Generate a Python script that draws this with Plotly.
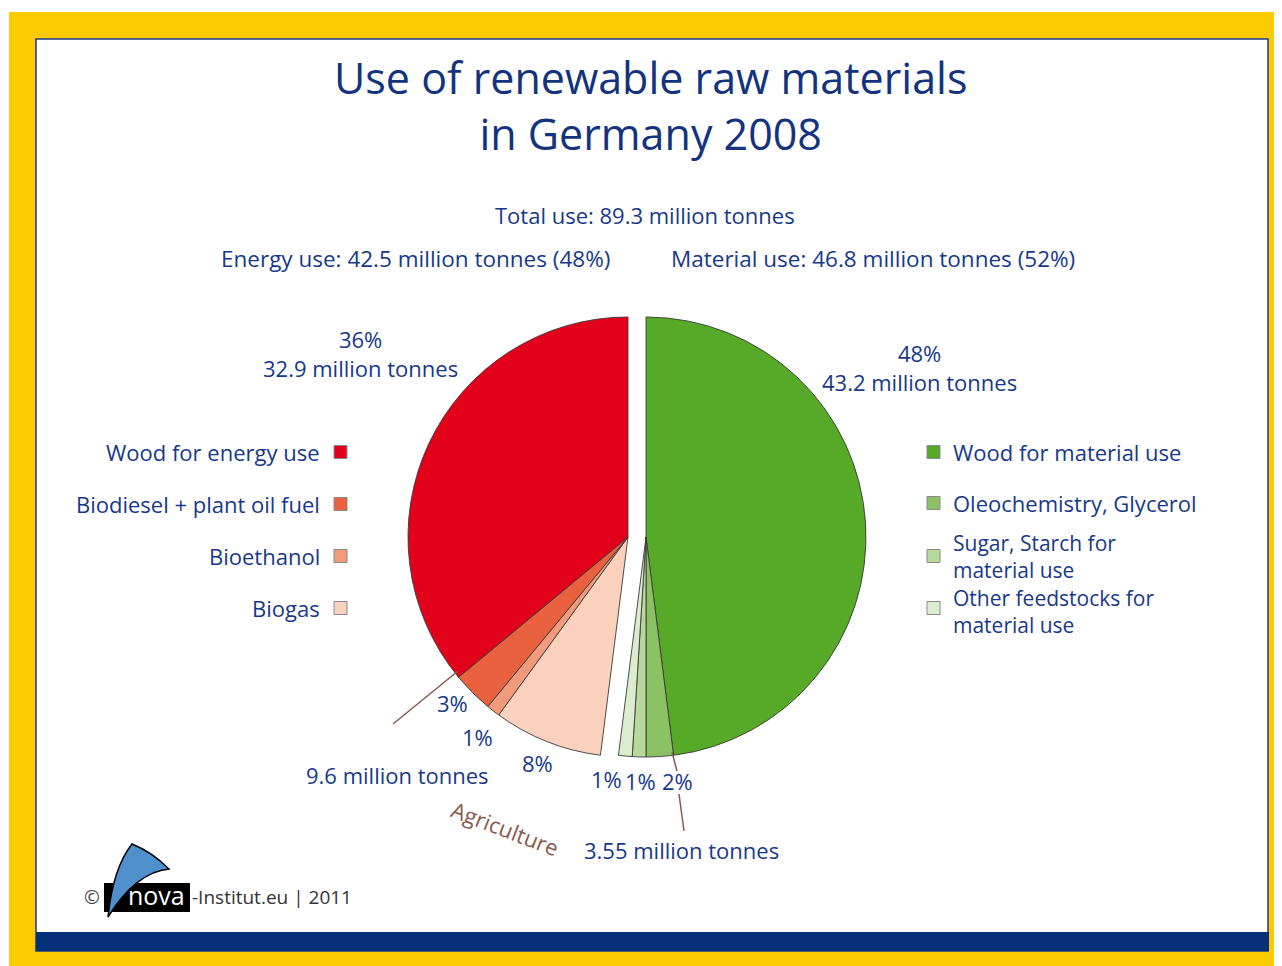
import plotly.graph_objects as go

W, H = 1282, 966
OFF = 8                      # page body margin of the browser
FW, FH = W - OFF, H - OFF    # figure size

# ---------------- data ----------------
energy_labels = ["Biogas", "Bioethanol", "Biodiesel + plant oil fuel", "Wood for energy use"]
energy_pct = [8, 1, 3, 36]
energy_colors = ["#f9d1bd", "#f19a7c", "#e9613f", "#e2001a"]

material_labels = ["Wood for material use", "Oleochemistry, Glycerol",
                   "Sugar, Starch for material use", "Other feedstocks for material use"]
material_pct = [48, 2, 1, 1]
material_colors = ["#56aa28", "#8cc264", "#b8d99c", "#dcedcf"]

title_text = "Use of renewable raw materials<br>in Germany 2008"
total_text = "Total use: 89.3 million tonnes"
energy_text = "Energy use: 42.5 million tonnes (48%)"
material_text = "Material use: 46.8 million tonnes (52%)"

TXT = "#17398a"
BROWN = "#8a5a4c"
FONT = "Open Sans"
FS = 22


def px(x):
    return (x - OFF) / FW


def py(y):
    return 1 - (y - OFF) / FH


fig = go.Figure()

# material half (clockwise from 12 o'clock), energy half hidden by a transparent dummy slice
fig.add_trace(go.Pie(
    values=material_pct + [sum(energy_pct)],
    labels=material_labels + ["_energy"],
    sort=False, direction="clockwise", rotation=0,
    marker=dict(colors=material_colors + ["rgba(0,0,0,0)"],
                line=dict(color="#3a3a3a", width=[0.9, 0.9, 0.9, 0.9, 0])),
    textinfo="none", hoverinfo="skip", showlegend=False,
    domain=dict(x=[px(426), px(866)], y=[py(757), py(317)]),
))
fig.add_trace(go.Pie(
    values=[sum(material_pct)] + energy_pct,
    labels=["_material"] + energy_labels,
    sort=False, direction="clockwise", rotation=0,
    marker=dict(colors=["rgba(0,0,0,0)"] + energy_colors,
                line=dict(color="#3a3a3a", width=[0, 0.9, 0.9, 0.9, 0.9])),
    textinfo="none", hoverinfo="skip", showlegend=False,
    domain=dict(x=[px(408), px(848)], y=[py(757), py(317)]),
))

shapes = []
# yellow frame
shapes.append(dict(type="rect", xref="paper", yref="paper", layer="below",
                   x0=px(9), x1=px(1282), y0=py(966), y1=py(12),
                   fillcolor="#fdc900", line=dict(width=0)))
# white panel with blue outline
shapes.append(dict(type="rect", xref="paper", yref="paper", layer="below",
                   x0=px(36), x1=px(1268), y0=py(951), y1=py(39),
                   fillcolor="white", line=dict(color="#1b3a86", width=1.5)))
# bottom blue bar
shapes.append(dict(type="rect", xref="paper", yref="paper", layer="below",
                   x0=px(36), x1=px(1269), y0=py(951), y1=py(932),
                   fillcolor="#06317a", line=dict(width=0)))

annotations = []


def text(t, x, y, size=FS, color=TXT, xanchor="center", angle=0, align="center"):
    annotations.append(dict(text=t, x=px(x), y=py(y), xref="paper", yref="paper",
                            xanchor=xanchor, yanchor="middle", showarrow=False,
                            textangle=angle, align=align,
                            font=dict(family=FONT, size=size, color=color)))


# title and headers
text(title_text, 650, 106, size=43, color="#13337f")
text(total_text, 645, 215)
text(energy_text, 415, 258, size=22.5)
text(material_text, 873, 258, size=22.5)

# slice labels
text("36%<br>32.9 million tonnes", 360, 353)
text("48%<br>43.2 million tonnes", 919, 367)
text("3%", 452, 703)
text("1%", 477, 737)
text("8%", 537, 763)
text("9.6 million tonnes", 397, 775)
text("1%", 606, 779)
text("1%", 640, 781)
text("2%", 677, 781)
text("Agriculture", 505, 828, color=BROWN, angle=21)
text("3.55 million tonnes", 681, 850)

# legends
left_rows = [452, 504, 556, 608]
left_items = list(zip(energy_labels, energy_colors))[::-1]  # wood, biodiesel, bioethanol, biogas
for (lab, col), yc in zip(left_items, left_rows):
    text(lab, 322, yc, xanchor="right")
    shapes.append(dict(type="rect", xref="paper", yref="paper",
                       x0=px(334), x1=px(347), y0=py(yc + 6.5), y1=py(yc - 6.5),
                       fillcolor=col, line=dict(color="#8a8a8a", width=1)))

right_rows = [452, 503, 556, 608]
right_text_y = [452, 503, 556, 611]
right_texts = ["Wood for material use", "Oleochemistry, Glycerol",
               "Sugar, Starch for<br>material use", "Other feedstocks for<br>material use"]
for t, col, yc, yt in zip(right_texts, material_colors, right_rows, right_text_y):
    shapes.append(dict(type="rect", xref="paper", yref="paper",
                       x0=px(927), x1=px(940), y0=py(yc + 6.5), y1=py(yc - 6.5),
                       fillcolor=col, line=dict(color="#8a8a8a", width=1)))
    if "<br>" in t:
        text(t, 951, yt, size=21, xanchor="left", align="left")
    else:
        text(t, 951, yt, xanchor="left", align="left")

# leader lines
shapes.append(dict(type="line", xref="paper", yref="paper",
                   x0=px(393), y0=py(724), x1=px(458), y1=py(671),
                   line=dict(color=BROWN, width=1.5)))
shapes.append(dict(type="line", xref="paper", yref="paper",
                   x0=px(672), y0=py(752), x1=px(677), y1=py(771),
                   line=dict(color=BROWN, width=1.5)))
shapes.append(dict(type="line", xref="paper", yref="paper",
                   x0=px(679), y0=py(794), x1=px(684), y1=py(831),
                   line=dict(color=BROWN, width=1.5)))

# footer logo
shapes.append(dict(type="rect", xref="paper", yref="paper",
                   x0=px(104), x1=px(190), y0=py(912), y1=py(883),
                   fillcolor="black", line=dict(width=0)))


def pt(x, y):
    return f"{px(x):.5f},{py(y):.5f}"


sail = (f"M {pt(108, 917)} Q {pt(113, 868)} {pt(132, 844)} "
        f"Q {pt(152, 852)} {pt(169, 869)} Q {pt(136, 872)} {pt(108, 917)} Z")
shapes.append(dict(type="path", xref="paper", yref="paper", path=sail,
                   fillcolor="#4f90cc", line=dict(color="black", width=1.5)))

text("©", 92, 897, size=19, color="#444444")
text("nova", 156, 895, size=25, color="white")
text("-Institut.eu | 2011", 190, 897, size=19, color="#333333", xanchor="left")

fig.update_layout(
    width=FW, height=FH,
    margin=dict(l=0, r=0, t=0, b=0),
    paper_bgcolor="white", plot_bgcolor="white",
    shapes=shapes, annotations=annotations,
    showlegend=False,
)

fig.write_html("out.html")
